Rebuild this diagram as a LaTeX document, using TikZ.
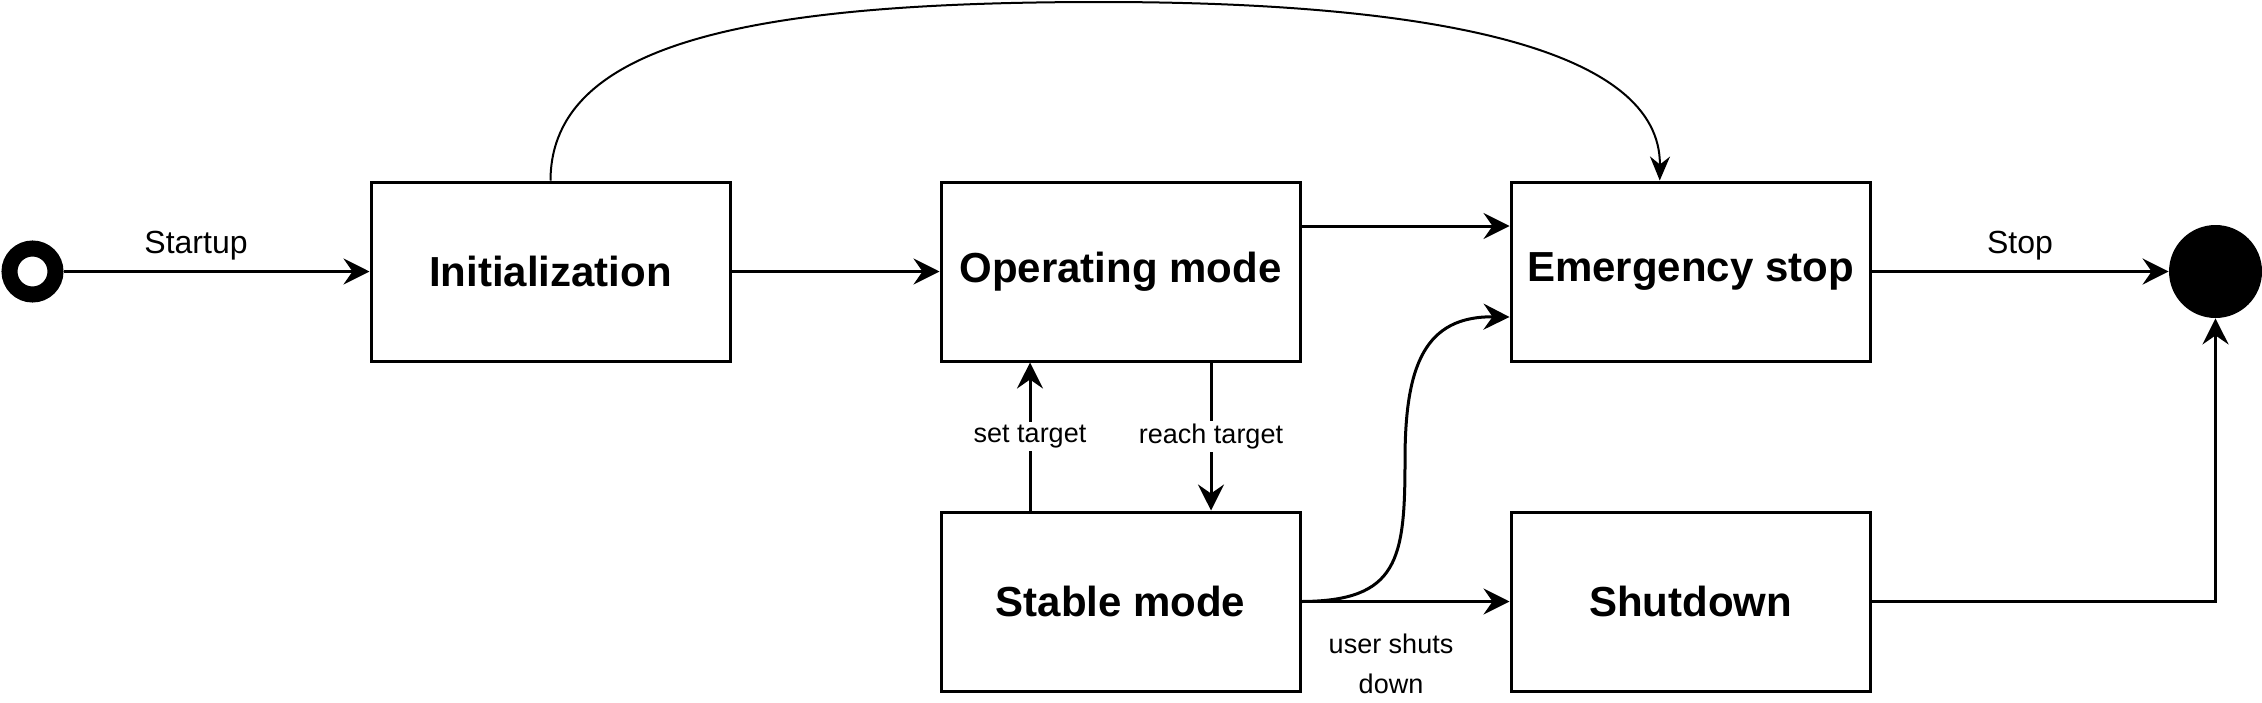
\documentclass[tikz,border=0pt]{standalone}
\usepackage{fontspec}
\setmainfont{Liberation Sans}
\usetikzlibrary{arrows.meta,calc}
\tikzset{
  stbox/.style={draw, line width=1.5pt, minimum width=179.5pt, minimum height=89.5pt, inner sep=0pt,
    font=\fontsize{21}{24}\selectfont\bfseries},
  conn/.style={line width=1.5pt, -{Stealth[length=13pt,width=13pt,inset=4.5pt]}},
  thinconn/.style={line width=1pt, -{Stealth[length=12pt,width=10pt,inset=4pt]}},
  lbl/.style={font=\fontsize{16}{19}\selectfont, inner sep=0pt},
  slbl/.style={font=\fontsize{13.5}{20}\selectfont, inner sep=1.5pt, fill=white},
  startnode/.style={circle, draw=black, line width=8pt, fill=white, minimum size=23pt, inner sep=0pt},
  endnode/.style={circle, fill=black, minimum size=46.5pt, inner sep=0pt, draw=none},
}
\begin{document}
\begin{tikzpicture}[x=0.5pt, y=-0.5pt]
\useasboundingbox (0,0) rectangle (2262,702);
\node[startnode] (s) at (32.5,271.5) {};
\node[endnode] (fin) at (2215.5,271.5) {};
\node[stbox] (init) at (550.5,271.5) {\raisebox{-1pt}{Initialization}};
\node[stbox] (op) at (1120.5,271.5) {\raisebox{-1pt}{Operating mode}};
\node[stbox] (em) at (1690.5,271.5) {\raisebox{-1pt}{Emergency stop}};
\node[stbox] (st) at (1120.5,601.5) {\raisebox{-1pt}{Stable mode}};
\node[stbox] (sd) at (1690.5,601.5) {\raisebox{-1pt}{Shutdown}};

\draw[conn] (s) -- (init);
\node[lbl] (lstart) at (196,246) {Startup};
\draw[conn] (init) -- (op);
\draw[conn] ($(op.north east)!0.25!(op.south east)$) -- ($(em.north west)!0.25!(em.south west)$);
\draw[conn] (em) -- (fin);
\node[lbl] (lstop) at (2020,246) {Stop};

\draw[conn] ($(op.south west)!0.75!(op.south east)$) -- node[slbl, pos=0.5] (lreach) {reach target} ($(st.north west)!0.75!(st.north east)$);
\draw[conn] ($(st.north west)!0.25!(st.north east)$) -- node[slbl, pos=0.5] (lset) {set target} ($(op.south west)!0.25!(op.south east)$);

\draw[conn] (st) -- (sd);
\node[slbl, fill=none, align=center] (luser) at (1391,664) {user shuts\\down};

\draw[conn] (st.east) .. controls (1398,601) and (1405,560) .. (1405,460)
  .. controls (1405,365) and (1425,316) .. ($(em.north west)!0.75!(em.south west)$);

\draw[conn] (sd.east) -| (fin.south);

\draw[thinconn] (init.north) .. controls (551,40) and (760,2) .. (1101,2)
  .. controls (1440,2) and (1661,50) .. ($(em.north west)!0.415!(em.north east)$);
\end{tikzpicture}
\end{document}
